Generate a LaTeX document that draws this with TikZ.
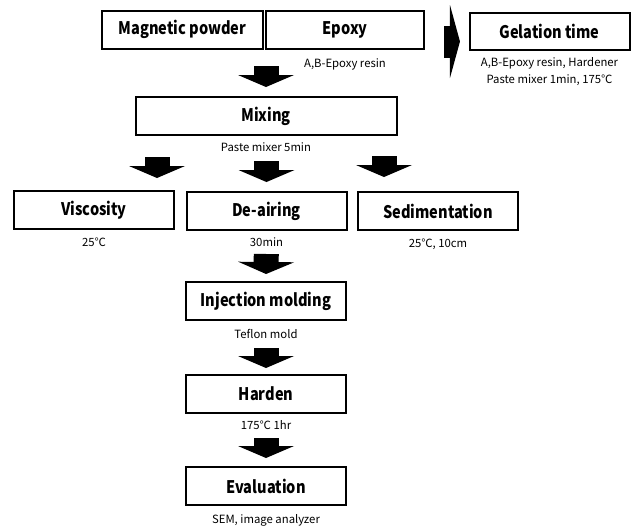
\documentclass[tikz,border=0pt]{standalone}
\usepackage{fontspec}
\setmainfont{Noto Sans CJK KR}
\newfontfamily\titlefont{Noto Sans CJK KR}[FakeStretch=0.84]
\usetikzlibrary{positioning,arrows.meta,calc}

\begin{document}
\begin{tikzpicture}[x=0.75pt, y=-0.75pt,
    box/.style={draw, line width=1.5pt, minimum width=120pt, minimum height=28.5pt, inner sep=0pt, font=\titlefont\fontsize{13}{15}\selectfont\bfseries},
    note/.style={inner sep=0pt, align=center, font=\fontsize{8.5}{12.75}\selectfont},
    blockarr/.style={line width=18.75pt, -{Triangle[length=9pt, width=42pt, line width=0pt]}},
    sidearr/.style={line width=24pt, -{Triangle[length=7.5pt, width=54.75pt, line width=0pt]}}]

\useasboundingbox (0,0) rectangle (633,529);

% top row
\node[box, minimum width=120.75pt] (mag) at (182.5,29.5) {Magnetic powder};
\node[box, minimum width=118.5pt] (epoxy) at (345,29.5) {Epoxy};
\node[box, minimum height=27.75pt] (gel) at (549.5,31.5) {Gelation time};
\node[note, below=7pt of epoxy] (epoxynote) {A,B-Epoxy resin};
\node[note, below=5pt of gel] (gelnote) {A,B-Epoxy resin, Hardener\\Paste mixer 1min, 175℃};

\node[box, minimum width=195.75pt] (mix) at (266,116) {Mixing};
\node[note, below=5pt of mix] (mixnote) {Paste mixer 5min};

% three tests
\node[box] (visc) at (94,210) {Viscosity};
\node[box] (deair) at (266.5,211) {De-airing};
\node[box] (sed) at (438,211) {Sedimentation};
\node[note, below=6pt of visc] (viscnote) {25℃};
\node[note, below=5pt of deair] (deairnote) {30min};
\node[note, below=6pt of sed] (sednote) {25℃, 10cm};

% chain down
\node[box] (inj) at (266,301) {Injection molding};
\node[note, below=6pt of inj] (injnote) {Teflon mold};
\node[box] (hard) at (266,394) {Harden};
\node[note, below=5pt of hard] (hardnote) {175℃ 1hr};
\node[box] (eval) at (266,486) {Evaluation};
\node[note, below=6pt of eval] (evalnote) {SEM, image analyzer};

% block arrows
\draw[sidearr, shorten <=14.25pt, shorten >=6.4pt] ($(epoxy.east)+(0,12)$) -- ($(epoxy.east -| gel.west)+(0,12)$);
\draw[blockarr, shorten <=12.4pt, shorten >=6.75pt] (mix.north |- epoxy.south) -- (mix.north);
\draw[blockarr, shorten <=15.75pt, shorten >=9pt] ($(visc.north east |- mix.south)+(-18,0)$) -- ($(visc.north east)+(-18,0)$);
\draw[blockarr, shorten <=18.75pt, shorten >=6.75pt] (deair.north |- mix.south) -- (deair.north);
\draw[blockarr, shorten <=15pt, shorten >=10.5pt] ($(sed.north west |- mix.south)+(27,0)$) -- ($(sed.north west)+(27,0)$);
\draw[blockarr, shorten <=17.25pt, shorten >=5.25pt] (deair.south) -- (inj.north);
\draw[blockarr, shorten <=20.25pt, shorten >=4.5pt] (inj.south) -- (hard.north);
\draw[blockarr, shorten <=18pt, shorten >=6pt] (hard.south) -- (eval.north);

\end{tikzpicture}
\end{document}
